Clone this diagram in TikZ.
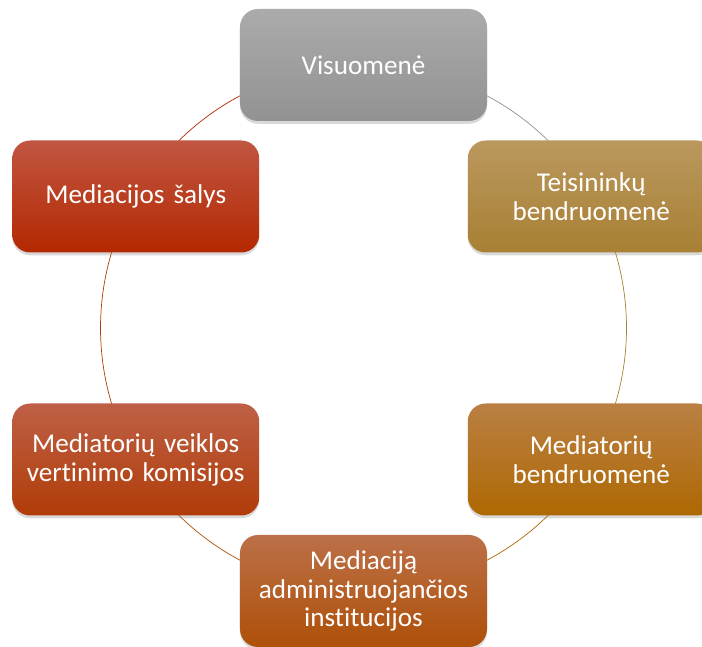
\documentclass[tikz,border=0pt]{standalone}
\usepackage{fontspec}
\setmainfont[Ligatures=NoCommon]{Carlito}
\usetikzlibrary{shadows,backgrounds}

\definecolor{visTop}{RGB}{171,171,171}
\definecolor{visBot}{RGB}{146,146,146}
\definecolor{teiTop}{RGB}{186,152,94}
\definecolor{teiBot}{RGB}{168,128,52}
\definecolor{medTop}{RGB}{186,128,68}
\definecolor{medBot}{RGB}{174,104,2}
\definecolor{admTop}{RGB}{188,112,72}
\definecolor{admBot}{RGB}{174,80,8}
\definecolor{komTop}{RGB}{190,96,70}
\definecolor{komBot}{RGB}{176,60,8}
\definecolor{salTop}{RGB}{192,86,66}
\definecolor{salBot}{RGB}{180,40,0}

\begin{document}
\begin{tikzpicture}
  \def\rad{6.575}
  \tikzset{
    cyclebox/.style={rectangle, rounded corners=0.45cm, minimum width=6.175cm,
      minimum height=2.8cm, text width=5.9cm, align=center, text=white,
      font=\fontsize{19.3}{20.5}\selectfont,
      drop shadow={opacity=0.3, shadow xshift=0pt, shadow yshift=-0.07cm}},
    ringarc/.style={line width=0.5pt}
  }
  \useasboundingbox (-9.0875,-7.975) rectangle (8.4625,8.2);
  \node[cyclebox, top color=visTop, bottom color=visBot] (vis) at (90:\rad) {Visuomenė};
  \node[cyclebox, top color=teiTop, bottom color=teiBot] (tei) at (30:\rad) {Teisininkų\\bendruomenė};
  \node[cyclebox, top color=medTop, bottom color=medBot] (med) at (-30:\rad) {Mediatorių\\bendruomenė};
  \node[cyclebox, top color=admTop, bottom color=admBot] (adm) at (-90:\rad) {Mediaciją\\administruojančios\\institucijos};
  \node[cyclebox, top color=komTop, bottom color=komBot] (kom) at (210:\rad) {Mediatorių veiklos\\vertinimo komisijos};
  \node[cyclebox, top color=salTop, bottom color=salBot] (sal) at (150:\rad) {Mediacijos šalys};
  \begin{pgfonlayer}{background}
    \draw[ringarc, draw=visBot] (vis.center) arc[start angle=90, end angle=30, radius=\rad];
    \draw[ringarc, draw=teiBot] (tei.center) arc[start angle=30, end angle=-30, radius=\rad];
    \draw[ringarc, draw=medBot] (med.center) arc[start angle=-30, end angle=-90, radius=\rad];
    \draw[ringarc, draw=admBot] (adm.center) arc[start angle=-90, end angle=-150, radius=\rad];
    \draw[ringarc, draw=komBot] (kom.center) arc[start angle=210, end angle=150, radius=\rad];
    \draw[ringarc, draw=salBot] (sal.center) arc[start angle=150, end angle=90, radius=\rad];
  \end{pgfonlayer}
\end{tikzpicture}
\end{document}
